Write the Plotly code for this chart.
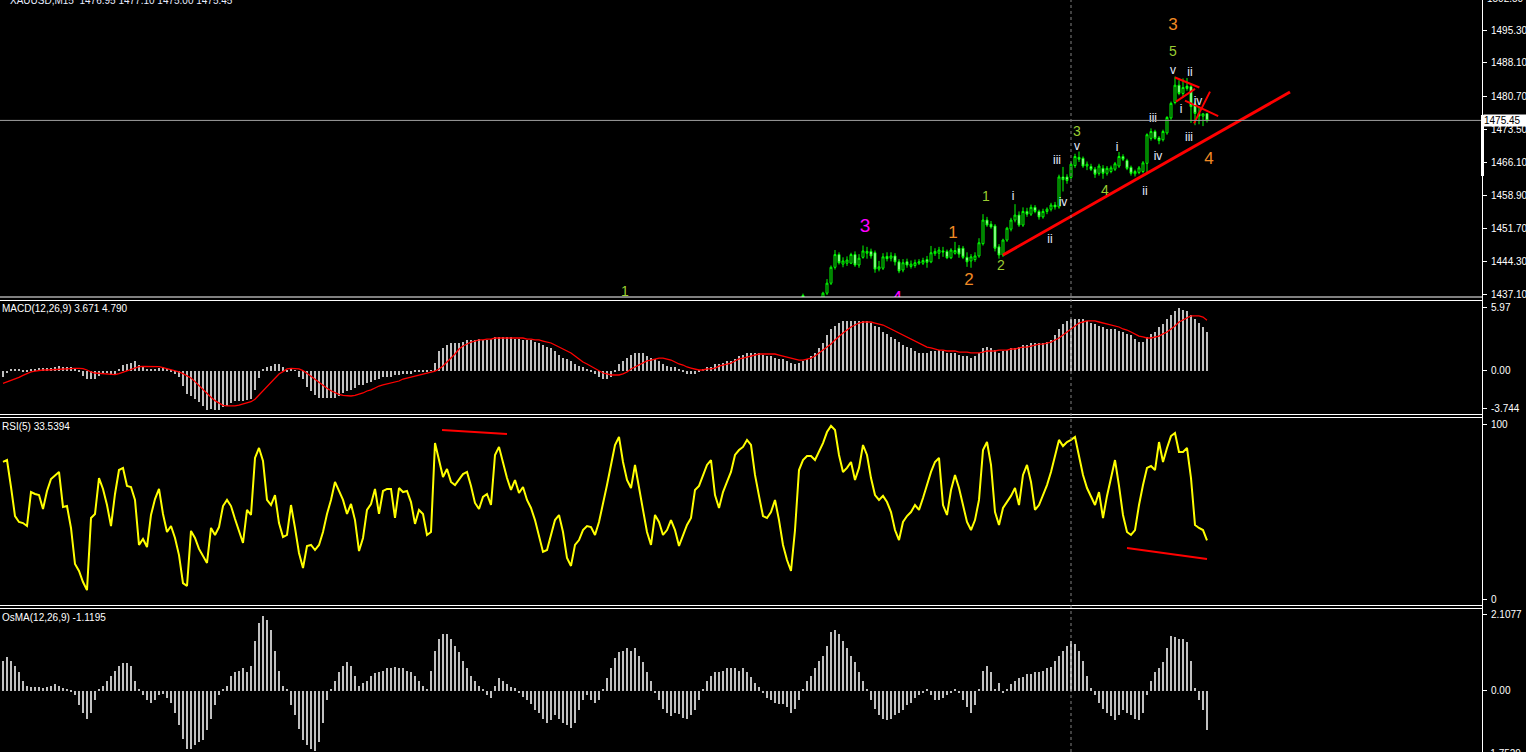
import plotly.graph_objects as go

W, H = 1526, 752
PLOT_R = 1482  # right edge of plot area in px

# ---------------- data ----------------
header_text = "XAUUSD,M15  1476.95 1477.10 1475.00 1475.45"
bid_price = 1475.45
separator_bar = 267

price_ticks = [1437.10, 1444.30, 1451.70, 1458.90, 1466.10, 1473.50, 1480.70, 1488.10, 1495.30]
macd_ticks = [5.97, 0.00, -3.744]
macd_tick_text = ["5.97", "0.00", "-3.744"]
rsi_ticks = [100, 0]
osma_ticks = [2.1077, 0.00]
osma_tick_text = ["2.1077", "0.00"]

# candles, bars 200..301
c_open = [1436.2, 1436.0, 1434.8, 1435.2, 1435.6, 1436.2, 1437.4, 1439.6, 1443.1, 1445.9,
          1443.8, 1444.0, 1444.0, 1445.9, 1443.6, 1445.3, 1446.2, 1446.6, 1446.3, 1442.7,
          1442.9, 1445.5, 1445.1, 1445.6, 1444.3, 1442.5, 1444.3, 1443.3, 1443.5, 1444.0,
          1444.0, 1444.8, 1444.3, 1446.1, 1446.2, 1446.7, 1446.6, 1445.2, 1446.2, 1447.3,
          1447.3, 1445.3, 1444.5, 1444.8, 1445.6, 1448.3, 1453.5, 1452.6, 1452.2, 1447.6,
          1445.8, 1449.1, 1451.5, 1453.5, 1454.6, 1452.4, 1455.4, 1454.8, 1456.3, 1455.4,
          1454.2, 1455.4, 1455.9, 1456.8, 1456.4, 1463.0, 1463.0, 1462.9, 1465.5, 1467.3,
          1467.1, 1465.4, 1465.3, 1464.7, 1463.8, 1464.9, 1463.8, 1464.2, 1464.7, 1465.4,
          1467.5, 1466.6, 1465.1, 1463.7, 1464.0, 1464.2, 1466.0, 1471.5, 1473.0, 1471.6,
          1471.2, 1472.7, 1476.0, 1479.4, 1483.2, 1481.4, 1483.0, 1482.9, 1479.1, 1477.0,
          1476.4, 1476.95]
c_high = [1437.3, 1436.3, 1435.6, 1436.0, 1436.3, 1437.7, 1440.5, 1443.5, 1446.9, 1446.4,
          1445.3, 1445.5, 1446.3, 1446.6, 1446.0, 1447.9, 1447.6, 1447.2, 1446.8, 1444.5,
          1446.2, 1446.4, 1446.4, 1446.2, 1444.9, 1444.9, 1445.0, 1444.6, 1444.8, 1444.9,
          1445.2, 1445.6, 1447.8, 1447.3, 1447.6, 1447.6, 1447.0, 1447.3, 1448.7, 1448.0,
          1447.8, 1446.4, 1446.0, 1446.4, 1449.5, 1454.8, 1454.2, 1453.3, 1452.6, 1448.2,
          1449.4, 1452.0, 1454.0, 1457.0, 1455.4, 1456.3, 1456.2, 1456.9, 1456.8, 1455.8,
          1456.0, 1456.3, 1457.3, 1457.5, 1463.5, 1465.2, 1463.6, 1466.2, 1468.1, 1468.6,
          1467.5, 1466.4, 1465.9, 1465.2, 1465.9, 1465.6, 1465.4, 1465.5, 1466.3, 1468.5,
          1468.0, 1467.0, 1465.5, 1464.6, 1465.4, 1466.5, 1472.6, 1473.7, 1473.4, 1472.0,
          1473.4, 1476.4, 1479.6, 1485.1, 1484.3, 1484.7, 1484.8, 1483.4, 1479.6, 1478.4,
          1477.0, 1477.10]
c_low = [1435.8, 1434.2, 1433.6, 1434.4, 1434.8, 1435.6, 1437.0, 1439.2, 1442.6, 1443.7,
         1443.1, 1443.4, 1443.8, 1443.2, 1443.0, 1445.0, 1445.0, 1445.0, 1441.9, 1442.2,
         1442.5, 1444.4, 1444.4, 1443.5, 1441.8, 1442.0, 1443.0, 1442.8, 1443.0, 1443.6,
         1443.6, 1443.0, 1444.0, 1445.6, 1444.9, 1445.4, 1444.9, 1444.9, 1445.9, 1445.2,
         1444.9, 1443.2, 1443.0, 1444.3, 1445.2, 1447.9, 1452.0, 1451.6, 1446.6, 1445.0,
         1445.4, 1448.7, 1451.0, 1453.0, 1452.0, 1452.0, 1454.2, 1454.4, 1455.0, 1453.6,
         1453.8, 1454.8, 1455.4, 1455.8, 1456.0, 1459.8, 1461.5, 1462.5, 1465.0, 1466.3,
         1465.0, 1464.5, 1464.3, 1462.8, 1463.3, 1462.6, 1463.3, 1463.8, 1464.3, 1465.0,
         1466.5, 1464.5, 1463.3, 1463.1, 1463.6, 1463.8, 1463.8, 1471.0, 1471.2, 1470.2,
         1470.8, 1472.3, 1475.6, 1479.0, 1481.0, 1480.5, 1482.0, 1474.9, 1474.4, 1474.6,
         1474.2, 1475.00]
c_close = [1436.9, 1434.8, 1435.2, 1435.6, 1436.0, 1437.4, 1439.6, 1443.1, 1445.9, 1444.1,
           1444.5, 1444.7, 1445.9, 1443.6, 1445.1, 1446.7, 1446.6, 1445.6, 1442.7, 1443.2,
           1445.4, 1445.0, 1445.6, 1444.3, 1442.3, 1444.1, 1443.6, 1443.8, 1444.1, 1444.3,
           1444.6, 1444.2, 1446.3, 1446.6, 1446.9, 1446.5, 1445.2, 1446.9, 1446.8, 1446.0,
           1445.3, 1444.3, 1445.4, 1445.6, 1448.5, 1453.5, 1452.4, 1452.0, 1447.3, 1445.8,
           1449.1, 1451.7, 1453.5, 1454.6, 1452.4, 1455.4, 1454.8, 1456.3, 1455.4, 1454.2,
           1455.4, 1455.9, 1456.8, 1456.4, 1463.0, 1462.4, 1462.2, 1465.8, 1467.5, 1466.9,
           1465.4, 1465.8, 1464.7, 1463.6, 1465.4, 1463.8, 1464.9, 1465.0, 1465.9, 1467.5,
           1466.9, 1464.9, 1463.8, 1464.2, 1465.0, 1466.1, 1472.3, 1473.0, 1471.5, 1471.0,
           1473.0, 1476.1, 1479.2, 1483.2, 1481.4, 1482.7, 1482.5, 1478.5, 1477.0, 1476.4,
           1476.9, 1475.45]

macd_main = [
    -0.58, -0.2, 0.1, 0.1, 0.1, -0.1, -0.1, 0.05, 0.1, 0.2,
    0.2, 0.2, 0.25, 0.35, 0.45, 0.35, 0.35, 0.3, 0.15, -0.15,
    -0.5, -0.85, -0.85, -0.85, -0.55, -0.33, -0.2, -0.4, -0.33, 0.15,
    0.5, 0.65, 0.75, 0.87, 0.55, 0.3, 0.05, 0.05, 0.05, 0.25,
    0.3, 0.05, -0.1, -0.33, -0.65, -1.5, -2.25, -2.5, -2.73, -3.05,
    -3.37, -3.79, -3.69, -3.79, -3.79, -3.5, -3.37, -3.15, -2.95, -2.9,
    -2.95, -2.8, -2.73, -1.92, -0.74, 0.05, 0.3, 0.42, 0.58, 0.58,
    0.3, -0.1, 0.05, 0.02, -0.65,
    -0.77, -1.54, -2.02, -2.31, -2.6, -2.69, -2.69, -2.69, -2.6, -2.41,
    -2.21, -2.02, -1.83, -1.64, -1.44, -1.35, -1.25, -1.15, -0.96, -0.77,
    -0.67, -0.58, -0.58, -0.48, -0.48, -0.38, -0.29, -0.29, -0.19, -0.19,
    -0.1, -0.1, -0.02, 0.77, 1.92, 2.21, 2.41, 2.6, 2.69, 2.69,
    2.79, 2.89, 2.89, 2.98, 3.08, 2.98, 2.98, 3.08, 3.18, 3.27,
    3.27, 3.18, 3.18, 3.08, 3.08, 2.98, 2.89, 2.89, 2.79, 2.69,
    2.5, 2.31, 2.12, 1.83, 1.54, 1.25, 1.06, 0.87, 0.67, 0.48,
    0.29, 0.1, -0.1, -0.38, -0.67, -0.77, -0.77, -0.58, -0.19, 0.58,
    0.96, 1.25, 1.54, 1.73, 1.73, 1.64, 1.44, 1.25, 1.06, 0.87,
    0.67, 0.48, 0.38, 0.29, 0.1, -0.1, -0.29, -0.38, -0.29, -0.1,
    0.1, 0.29, 0.38, 0.58, 0.67, 0.77, 0.87, 0.96, 1.15, 1.35,
    1.54, 1.73, 1.73, 1.73, 1.64, 1.54, 1.44, 1.35, 1.25, 1.15,
    1.06, 0.87, 0.77, 0.67, 0.77, 0.87, 1.06, 1.35, 1.64, 2.12,
    2.69, 3.37, 3.95, 4.33, 4.62, 4.72, 4.81, 4.81, 4.81, 4.81,
    4.72, 4.72, 4.62, 4.33, 4.14, 3.75, 3.56, 3.27, 3.08, 2.79,
    2.5, 2.31, 2.12, 1.92, 1.73, 1.64, 1.64, 1.83, 1.92, 2.02,
    1.83, 1.73, 1.73, 1.64, 1.54, 1.44, 1.35, 1.25, 1.35, 1.73,
    2.12, 2.31, 2.21, 2.02, 1.73, 1.92, 2.02, 2.12, 2.21, 2.31,
    2.41, 2.5, 2.6, 2.6, 2.69, 2.69, 2.79, 2.98, 3.37, 3.95,
    4.43, 4.72, 4.91, 5.0, 5.0, 4.91, 4.72, 4.62, 4.52, 4.33,
    4.14, 4.04, 3.95, 3.95, 3.85, 3.75, 3.56, 3.37, 3.08, 2.79,
    2.79, 3.18, 3.47, 3.75, 4.14, 4.52, 5.0, 5.39, 5.68, 5.97,
    5.87, 5.68, 5.39, 5.0, 4.62, 4.23, 3.67]

macd_signal = [
    -1.28, -1.15, -1.03, -0.9, -0.71, -0.51, -0.32, -0.19, -0.1, -0.03,
    0.0, 0.0, 0.03, 0.06, 0.1, 0.13, 0.13, 0.16, 0.16, 0.16,
    0.13, 0.0, -0.19, -0.29, -0.32, -0.38, -0.45, -0.48, -0.45, -0.35,
    -0.22, -0.13, 0.06, 0.19, 0.32, 0.35, 0.35, 0.35, 0.35, 0.32,
    0.22, 0.13, 0.06, -0.03, -0.19, -0.35, -0.58, -0.77, -1.12, -1.51,
    -1.92, -2.31, -2.63, -2.95, -3.21, -3.4, -3.46, -3.46, -3.46, -3.37,
    -3.27, -3.14, -3.05, -2.82, -2.41, -1.99, -1.6, -1.22, -0.8, -0.38,
    -0.16, 0.1, 0.16, 0.16, 0.10,
    -0.05, -0.3, -0.6, -0.9, -1.2, -1.5, -1.75, -2.0, -2.2, -2.35,
    -2.45, -2.5, -2.5, -2.45, -2.35, -2.21, -2.02, -1.92, -1.73, -1.54,
    -1.44, -1.35, -1.25, -1.15, -1.06, -0.87, -0.77, -0.67, -0.58, -0.48,
    -0.38, -0.29, -0.19, -0.1, 0.1, 0.38, 0.77, 1.15, 1.54, 2.02,
    2.31, 2.5, 2.69, 2.79, 2.89, 2.89, 2.98, 2.98, 3.08, 3.08,
    3.08, 3.08, 3.08, 3.08, 3.08, 3.08, 2.98, 2.98, 2.89, 2.89,
    2.79, 2.69, 2.6, 2.41, 2.21, 2.02, 1.83, 1.64, 1.35, 1.06,
    0.77, 0.58, 0.38, 0.1, -0.1, -0.29, -0.38, -0.48, -0.48, -0.48,
    -0.38, -0.19, 0.1, 0.29, 0.48, 0.67, 0.87, 0.96, 1.06, 1.15,
    1.15, 1.06, 0.96, 0.77, 0.58, 0.48, 0.29, 0.19, 0.1, 0.0,
    0.0, 0.1, 0.1, 0.19, 0.38, 0.48, 0.58, 0.67, 0.87, 1.06,
    1.15, 1.25, 1.35, 1.44, 1.54, 1.54, 1.54, 1.54, 1.54, 1.44,
    1.35, 1.25, 1.15, 1.06, 0.96, 0.96, 1.06, 1.15, 1.35, 1.64,
    1.92, 2.21, 2.5, 2.89, 3.27, 3.56, 3.85, 4.14, 4.33, 4.52,
    4.62, 4.62, 4.62, 4.52, 4.43, 4.33, 4.14, 3.95, 3.75, 3.56,
    3.37, 3.18, 2.98, 2.79, 2.6, 2.41, 2.21, 2.12, 2.02, 1.92,
    1.92, 1.83, 1.83, 1.83, 1.73, 1.73, 1.73, 1.64, 1.64, 1.64,
    1.73, 1.83, 1.83, 1.83, 1.92, 1.92, 1.92, 2.02, 2.02, 2.12,
    2.21, 2.21, 2.31, 2.41, 2.5, 2.5, 2.6, 2.69, 2.89, 3.08,
    3.37, 3.66, 3.95, 4.23, 4.52, 4.62, 4.72, 4.72, 4.72, 4.62,
    4.52, 4.43, 4.33, 4.23, 4.14, 3.95, 3.85, 3.66, 3.47, 3.27,
    3.18, 3.08, 3.08, 3.18, 3.27, 3.47, 3.66, 3.95, 4.23, 4.62,
    4.81, 5.0, 5.2, 5.2, 5.2, 5.1, 4.79]

rsi_values = [
    78.3, 79.4, 64.0, 47.4, 44.0, 43.4, 41.7, 61.1, 60.0, 59.4,
    51.4, 61.7, 68.6, 70.9, 72.6, 52.6, 53.1, 40.6, 20.0, 16.0,
    9.7, 5.1, 46.3, 48.6, 69.1, 62.9, 53.7, 41.7, 60.0, 73.7,
    74.9, 64.6, 64.0, 56.6, 30.9, 34.3, 29.7, 48.0, 57.1, 62.9,
    48.6, 38.3, 41.7, 34.9, 25.1, 9.1, 7.4, 38.9, 34.9, 28.6,
    24.6, 20.6, 40.6, 36.6, 41.1, 53.1, 56.6, 53.1, 45.7, 39.4,
    32.0, 50.9, 48.0, 80.6, 86.3, 78.9, 56.6, 53.7, 59.4, 43.4,
    35.4, 36.6, 53.7, 40.6, 26.3, 17.7, 30.3, 30.9, 28.0, 30.9,
    38.3, 48.6, 56.6, 66.9, 61.7, 56.6, 48.6, 54.3, 45.1, 27.4,
    34.9, 50.9, 54.3, 62.9, 48.6, 61.7, 62.9, 62.9, 46.3, 63.4,
    61.1, 61.7, 55.4, 42.9, 50.9, 48.6, 36.6, 38.3, 89.1, 79.4,
    69.7, 74.3, 66.9, 65.1, 68.6, 71.4, 72.6, 64.6, 54.9, 51.4,
    58.3, 60.0, 53.7, 82.3, 86.9, 78.3, 69.1, 62.3, 68.0, 60.6,
    64.0, 56.6, 52.0, 45.1, 35.4, 26.9, 28.0, 36.6, 45.1, 48.0,
    38.3, 23.4, 18.9, 30.9, 33.7, 39.4, 41.7, 41.1, 36.6, 44.0,
    53.7, 65.1, 76.6, 88.0, 92.6, 78.3, 68.0, 63.4, 76.6, 64.6,
    50.9, 38.3, 30.9, 48.0, 44.0, 36.6, 39.4, 45.1, 39.4, 30.3,
    36.6, 42.3, 46.3, 62.3, 64.6, 70.9, 76.6, 79.4, 59.4, 52.0,
    61.1, 66.9, 72.6, 82.3, 85.1, 86.9, 90.9, 88.0, 70.9, 58.9,
    47.4, 46.3, 49.7, 56.6, 45.1, 30.9, 22.3, 16.0, 39.4, 73.7,
    79.4, 81.7, 81.7, 79.4, 84.0, 89.1, 95.4, 98.9, 96.6, 82.3,
    72.6, 74.9, 78.3, 68.0, 74.9, 88.0, 82.3, 69.1, 59.4, 56.6,
    58.9, 55.4, 49.7, 39.4, 33.7, 44.0, 47.4, 49.7, 53.7, 50.9,
    57.7, 65.1, 72.6, 78.3, 80.6, 53.7, 48.0, 62.3, 70.9, 63.4,
    53.1, 44.0, 39.4, 45.1, 56.6, 85.1, 89.7, 76.6, 49.7, 42.3,
    52.0, 55.4, 58.9, 63.4, 53.7, 70.9, 76.6, 66.9, 50.9, 53.7,
    59.4, 65.1, 72.6, 82.3, 90.9, 87.4, 89.7, 90.9, 92.6, 81.7,
    70.9, 63.4, 58.9, 53.7, 61.1, 46.3, 58.9, 69.1, 79.4, 64.6,
    48.0, 38.3, 36.6, 39.4, 53.7, 65.1, 74.9, 76.0, 73.7, 89.7,
    78.3, 86.3, 93.1, 94.9, 84.0, 84.0, 86.3, 69.1, 42.3, 40.6,
    39.4, 33.54]

osma_values = [
    0.84, 0.93, 0.84, 0.70, 0.51, 0.28, 0.14, 0.11, 0.11, 0.11,
    0.08, 0.11, 0.14, 0.17, 0.14, 0.08, 0.02, -0.02, -0.14, -0.42,
    -0.62, -0.79, -0.62, -0.28, 0.02, 0.14, 0.28, 0.42, 0.56, 0.70,
    0.76, 0.76, 0.70, 0.28, 0.02, -0.14, -0.28, -0.34, -0.28, -0.14,
    -0.11, -0.22, -0.34, -0.62, -0.98, -1.35, -1.63, -1.63, -1.54, -1.46,
    -1.40, -1.12, -0.79, -0.42, -0.14, 0.02, 0.14, 0.42, 0.51, 0.56,
    0.62, 0.51, 0.70, 1.40, 1.91, 2.08, 1.97, 1.69, 1.12, 0.56,
    0.14, 0.02, -0.42, -0.70, -1.07, -1.40, -1.54, -1.63, -1.69, -1.46,
    -0.90, -0.28, 0.02, 0.28, 0.51, 0.70, 0.79, 0.70, 0.42, 0.14,
    0.20, 0.28, 0.42, 0.48, 0.51, 0.56, 0.62, 0.62, 0.65, 0.62,
    0.62, 0.56, 0.51, 0.42, 0.28, 0.14, 0.02, 0.56, 1.12, 1.46,
    1.60, 1.60, 1.46, 1.26, 1.07, 0.84, 0.62, 0.42, 0.28, 0.14,
    0.02, -0.14, -0.22, 0.14, 0.34, 0.28, 0.17, 0.11, 0.06, -0.06,
    -0.17, -0.28, -0.39, -0.56, -0.62, -0.79, -0.90, -0.84, -0.70, -0.79,
    -0.90, -0.98, -1.04, -0.90, -0.56, -0.28, -0.14, -0.28, -0.34, -0.28,
    0.02, 0.34, 0.62, 0.90, 1.07, 1.12, 1.18, 1.12, 1.18, 0.98,
    0.79, 0.51, 0.28, -0.06, -0.28, -0.51, -0.62, -0.73, -0.62, -0.67,
    -0.76, -0.79, -0.70, -0.56, -0.28, 0.02, 0.28, 0.42, 0.51, 0.51,
    0.56, 0.62, 0.62, 0.62, 0.56, 0.62, 0.51, 0.39, 0.22, 0.11,
    -0.06, -0.20, -0.28, -0.34, -0.39, -0.39, -0.45, -0.62, -0.51, -0.28,
    0.02, 0.28, 0.42, 0.62, 0.84, 0.98, 1.26, 1.63, 1.69, 1.60,
    1.40, 1.18, 0.98, 0.79, 0.51, 0.28, 0.02, -0.28, -0.51, -0.70,
    -0.79, -0.84, -0.79, -0.70, -0.62, -0.56, -0.42, -0.34, -0.22, -0.14,
    -0.08, 0.02, -0.14, -0.28, -0.28, -0.22, -0.14, -0.06, 0.02, -0.06,
    -0.28, -0.45, -0.62, -0.42, 0.02, 0.56, 0.70, 0.51, 0.02, 0.22,
    -0.06, 0.02, 0.17, 0.28, 0.34, 0.39, 0.45, 0.45, 0.51, 0.51,
    0.56, 0.62, 0.67, 0.84, 0.98, 1.12, 1.26, 1.40, 1.32, 1.12,
    0.84, 0.42, 0.06, -0.14, -0.34, -0.51, -0.62, -0.73, -0.84, -0.70,
    -0.56, -0.62, -0.70, -0.79, -0.84, -0.62, -0.14, 0.28, 0.51, 0.62,
    0.79, 1.18, 1.52, 1.49, 1.46, 1.46, 1.35, 0.84, 0.06, -0.28,
    -0.56, -1.1195]

# drawn objects (bar index, value)
trend_x = [250, 321.75]
trend_y = [1445.8, 1481.7]
tri_lines = [
    ([293.0, 299.1], [1484.9, 1482.7]),
    ([293.25, 298.0], [1479.6, 1482.4]),
    ([295.5, 303.8], [1479.8, 1476.4]),
    ([297.75, 301.75], [1474.8, 1481.8]),
]
rsi_lines = [
    ([109.75, 126.0], [96.6, 94.3]),
    ([281.0, 301.0], [29.1, 22.9]),
]

MAG, ORG, YG, ROM = "#ff00ff", "#f08a24", "#9acd32", "#e4ebff"
wave_text = ["3", "4", "1", "1", "2", "1", "2", "3", "4", "5", "3", "4",
             "i", "ii", "iii", "iv", "v", "i", "ii", "iii", "iv", "v", "ii", "i", "iv", "iii"]
wave_x = [215.5, 223.5, 155.5, 237.5, 241.5, 245.75, 249.5, 268.5, 275.5, 292.5, 292.5, 301.5,
          252.5, 261.75, 263.5, 265.0, 268.5, 278.5, 285.5, 287.5, 288.75, 292.5, 296.75, 294.5, 298.75, 296.5]
wave_y = [1452.0, 1436.1, 1437.5, 1450.4, 1440.1, 1458.4, 1443.2, 1472.7, 1459.9, 1490.5, 1496.2, 1466.7,
          1458.6, 1449.1, 1466.5, 1457.3, 1469.6, 1469.4, 1459.7, 1475.8, 1467.4, 1486.3, 1485.9, 1477.7, 1479.5, 1471.6]
wave_color = [MAG, MAG, YG, ORG, ORG, YG, YG, YG, YG, YG, ORG, ORG] + [ROM] * 14
wave_size = [19, 19, 14, 17, 17, 14, 14, 14, 14, 14, 17, 17] + [12] * 14

# ---------------- figure ----------------
def xs(arr):
    n = len(arr)
    return list(range(302 - n, 302))

def py(px):
    return 1 - px / H

xdom = [0, PLOT_R / W]
x_range = [-0.75, (PLOT_R - 3) / 4]

fig = go.Figure()

fig.add_trace(go.Candlestick(
    x=xs(c_open), open=c_open, high=c_high, low=c_low, close=c_close,
    increasing=dict(line=dict(color="#00ff00", width=1), fillcolor="#000000"),
    decreasing=dict(line=dict(color="#00ff00", width=1), fillcolor="#ffffff"),
    whiskerwidth=0, xaxis="x", yaxis="y", showlegend=False, hoverinfo="skip"))

fig.add_trace(go.Scatter(x=trend_x, y=trend_y, mode="lines",
                         line=dict(color="#ff0000", width=3), xaxis="x", yaxis="y",
                         showlegend=False, hoverinfo="skip"))
for lx, ly in tri_lines:
    fig.add_trace(go.Scatter(x=lx, y=ly, mode="lines", line=dict(color="#ff0000", width=2),
                             xaxis="x", yaxis="y", showlegend=False, hoverinfo="skip"))

fig.add_trace(go.Scatter(x=wave_x, y=wave_y, mode="text", text=wave_text,
                         textposition="middle center",
                         textfont=dict(family="Liberation Sans", color=wave_color, size=wave_size),
                         cliponaxis=True, xaxis="x", yaxis="y", showlegend=False, hoverinfo="skip"))

# MACD
fig.add_trace(go.Bar(x=xs(macd_main), y=macd_main, width=0.72,
                     marker=dict(color="#c0c0c0", line=dict(width=0)),
                     xaxis="x2", yaxis="y2", showlegend=False, hoverinfo="skip"))
fig.add_trace(go.Scatter(x=xs(macd_signal), y=macd_signal, mode="lines",
                         line=dict(color="#ff0000", width=1.3),
                         xaxis="x2", yaxis="y2", showlegend=False, hoverinfo="skip"))

# RSI
fig.add_trace(go.Scatter(x=xs(rsi_values), y=rsi_values, mode="lines",
                         line=dict(color="#ffff00", width=2),
                         xaxis="x3", yaxis="y3", showlegend=False, hoverinfo="skip"))
for lx, ly in rsi_lines:
    fig.add_trace(go.Scatter(x=lx, y=ly, mode="lines", line=dict(color="#ff0000", width=2),
                             xaxis="x3", yaxis="y3", showlegend=False, hoverinfo="skip"))

# OsMA
fig.add_trace(go.Bar(x=xs(osma_values), y=osma_values, width=0.72,
                     marker=dict(color="#c0c0c0", line=dict(width=0)),
                     xaxis="x4", yaxis="y4", showlegend=False, hoverinfo="skip"))

tickfont = dict(family="Liberation Sans", size=10, color="#ffffff")

def yax(dom, rng, tv, tt):
    return dict(domain=dom, range=rng, side="right", anchor=None, tickmode="array",
                tickvals=tv, ticktext=tt, ticks="outside", ticklen=4, tickcolor="#ffffff",
                tickfont=tickfont, showgrid=False, zeroline=False, showline=False,
                automargin=False, fixedrange=True, ticklabelstandoff=2)

def xax():
    return dict(domain=xdom, range=x_range, showticklabels=False, showgrid=False,
                zeroline=False, showline=False, ticks="", automargin=False,
                rangeslider=dict(visible=False), fixedrange=True)

y_main = yax([py(297), 1], [1495.3 - (297 - 30.3) / 4.54, 1495.3 + 30.3 / 4.54],
             price_ticks, ["%.2f" % v for v in price_ticks])
y_main["anchor"] = "x"
y_macd = yax([py(414.5), py(300.5)], [(370 - 414.5) / 10.39, (370 - 300.5) / 10.39],
             macd_ticks, macd_tick_text)
y_macd["anchor"] = "x2"
y_rsi = yax([py(605.5), py(417.5)], [(599 - 605.5) / 1.75, (599 - 417.5) / 1.75],
            rsi_ticks, ["100", "0"])
y_rsi["anchor"] = "x3"
y_osma = yax([0, py(608.5)], [(690 - 752) / 35.6, (690 - 608.5) / 35.6],
             osma_ticks, osma_tick_text)
y_osma["anchor"] = "x4"

xa1 = xax(); xa1["anchor"] = "y"
xa2 = xax(); xa2["anchor"] = "y2"; xa2["matches"] = "x"
xa3 = xax(); xa3["anchor"] = "y3"; xa3["matches"] = "x"
xa4 = xax(); xa4["anchor"] = "y4"; xa4["matches"] = "x"

shapes = []
for ypx in [297, 300.5, 414.5, 417.5, 605.5, 608.5]:
    shapes.append(dict(type="line", xref="paper", yref="paper", x0=0, x1=(PLOT_R + 0.5) / W,
                       y0=py(ypx), y1=py(ypx), line=dict(color="#ffffff", width=1)))
shapes.append(dict(type="line", xref="paper", yref="paper", x0=(PLOT_R + 0.5) / W,
                   x1=(PLOT_R + 0.5) / W, y0=0, y1=1, line=dict(color="#ffffff", width=1)))
# bid line
shapes.append(dict(type="line", xref="paper", yref="y", x0=0, x1=PLOT_R / W,
                   y0=bid_price, y1=bid_price, line=dict(color="#a0a0a0", width=1)))
# period separator
shapes.append(dict(type="line", xref="x", yref="paper", x0=separator_bar, x1=separator_bar,
                   y0=0, y1=1, line=dict(color="#808080", width=1, dash="dot")))
# white marker bar on price scale
shapes.append(dict(type="rect", xref="paper", yref="paper", x0=(PLOT_R - 1) / W,
                   x1=(PLOT_R + 2) / W, y0=py(176), y1=py(115),
                   fillcolor="#ffffff", line=dict(width=0)))

lab_font = dict(family="Liberation Sans", size=10, color="#ffffff")
annotations = [
    dict(text=header_text, xref="paper", yref="paper", x=8 / W, y=py(1), xanchor="left",
         yanchor="middle", showarrow=False, font=dict(family="Liberation Sans", size=10, color="#e8eeff")),
    dict(text="MACD(12,26,9) 3.671 4.790", xref="paper", yref="paper", x=0, y=py(309),
         xanchor="left", yanchor="middle", showarrow=False, font=lab_font),
    dict(text="RSI(5) 33.5394", xref="paper", yref="paper", x=0, y=py(426),
         xanchor="left", yanchor="middle", showarrow=False, font=lab_font),
    dict(text="OsMA(12,26,9) -1.1195", xref="paper", yref="paper", x=0, y=py(617),
         xanchor="left", yanchor="middle", showarrow=False, font=lab_font),
    dict(text="%.2f" % bid_price, xref="paper", yref="y", x=(PLOT_R + 1) / W, y=bid_price,
         xanchor="left", yanchor="middle", showarrow=False, bgcolor="#ffffff",
         font=dict(family="Liberation Sans", size=10, color="#000000"), borderpad=0,
         width=43, align="left"),
    dict(text="1502.50", xref="paper", yref="paper", x=(PLOT_R + 3) / W, y=py(-2),
         xanchor="left", yanchor="middle", showarrow=False, font=tickfont),
    dict(text="-1.7529", xref="paper", yref="paper", x=(PLOT_R + 3) / W, y=py(753),
         xanchor="left", yanchor="middle", showarrow=False, font=tickfont),
]

fig.update_layout(
    width=W, height=H, margin=dict(l=0, r=0, t=0, b=0),
    paper_bgcolor="#000000", plot_bgcolor="#000000",
    xaxis=xa1, xaxis2=xa2, xaxis3=xa3, xaxis4=xa4,
    yaxis=y_main, yaxis2=y_macd, yaxis3=y_rsi, yaxis4=y_osma,
    shapes=shapes, annotations=annotations, showlegend=False,
    bargap=0, hovermode=False, dragmode=False,
)

fig.write_html("out.html", config={"displayModeBar": False},
               post_script="document.body.style.margin='0';document.body.style.overflow='hidden';document.body.style.background='#000';")
